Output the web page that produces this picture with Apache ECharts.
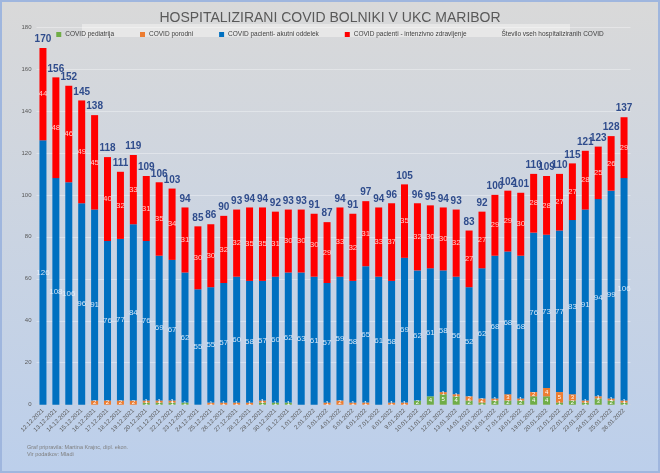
<!DOCTYPE html>
<html><head><meta charset="utf-8">
<script src="https://cdn.jsdelivr.net/npm/echarts@6/dist/echarts.min.js"></script>
<style>
html,body{margin:0;padding:0;}
#c{width:660px;height:473px;box-sizing:border-box;border:2px solid #9fb6de;}
</style></head>
<body><div id="c"></div>
<script>
const dates = ['12.12.2021','13.12.2021','14.12.2021','15.12.2021','16.12.2021','17.12.2021','18.12.2021','19.12.2021','20.12.2021','21.12.2021','22.12.2021','23.12.2021','24.12.2021','25.12.2021','26.12.2021','27.12.2021','28.12.2021','29.12.2021','30.12.2021','31.12.2021','1.01.2022','2.01.2022','3.01.2022','4.01.2022','5.01.2022','6.01.2022','7.01.2022','8.01.2022','9.01.2022','10.01.2022','11.01.2022','12.01.2022','13.01.2022','14.01.2022','15.01.2022','16.01.2022','17.01.2022','18.01.2022','19.01.2022','20.01.2022','21.01.2022','22.01.2022','23.01.2022','24.01.2022','25.01.2022','26.01.2022'];
const pediatrija = [0,0,0,0,0,0,0,0,1,1,1,1,0,0,0,0,0,1,1,1,0,0,0,0,0,0,0,0,0,2,4,5,4,2,1,2,2,2,4,4,1,2,1,3,2,1];
const porodni =    [0,0,0,0,2,2,2,2,1,1,1,0,0,1,1,1,1,1,0,0,0,0,1,2,1,1,0,1,1,0,0,1,1,2,2,1,3,1,2,4,5,3,1,1,1,1];
const akutni =     [126,108,106,96,91,76,77,84,76,69,67,62,55,55,57,60,58,57,60,62,63,61,57,59,58,65,61,58,69,62,61,58,56,52,62,68,68,68,76,73,77,83,91,94,99,106];
const intenzivno = [44,48,46,49,45,40,32,33,31,35,34,31,30,30,32,32,35,35,31,30,30,30,29,33,32,31,33,37,35,32,30,30,32,27,27,29,29,30,28,28,27,27,28,25,26,29];
const skupaj =     [170,156,152,145,138,118,111,119,109,106,103,94,85,86,90,93,94,94,92,93,93,91,87,94,91,97,94,96,105,96,95,94,93,83,92,100,102,101,110,109,110,115,121,123,128,137];
const yTicks = {min:0, max:180, interval:20};
const names = ['COVID pediatrija','COVID porodni','COVID pacienti- akutni oddelek','COVID pacienti - intenzivno zdravljenje','Število vseh hospitaliziranih COVID'];

const chart = echarts.init(document.getElementById('c'), null, {renderer:'canvas'});
const smallLabel = {show:true, position:'inside', fontSize:6, color:'#ffffff', formatter:p=>p.value>0?p.value:''};
chart.setOption({
  animation:false,
  backgroundColor:{type:'linear',x:0,y:0,x2:0,y2:1,colorStops:[{offset:0,color:'#d9d9d9'},{offset:1,color:'#bccfeb'}]},
  textStyle:{fontFamily:'Liberation Sans, Arial, sans-serif'},
  title:{text:'HOSPITALIZIRANI COVID BOLNIKI V UKC MARIBOR',left:'center',top:4,
    textStyle:{fontSize:14,fontWeight:'normal',color:'#595959',fontFamily:'Liberation Sans Narrow, Liberation Sans, sans-serif'}},
  graphic:[
    {type:'rect',shape:{x:80,y:22,width:488,height:13},style:{fill:'#e7e7e7'},z:-1},
    {type:'text',left:25,top:442,style:{text:'Graf pripravila: Martina Krajnc, dipl. ekon.\nVir podatkov: Mladi',fill:'#7f7f7f',fontSize:5.5,lineHeight:7}}
  ],
  legend:{top:24,left:'center',itemWidth:5,itemHeight:5,itemGap:26,
    textStyle:{fontSize:6.5,color:'#404040',padding:[0,0,0,-1]},
    data:[{name:names[0],icon:'rect'},{name:names[1],icon:'rect'},{name:names[2],icon:'rect'},{name:names[3],icon:'rect'},
      {name:names[4],icon:'rect',itemStyle:{color:'rgba(0,0,0,0)'}}]},
  grid:{left:34.5,right:27.5,top:25,bottom:66.3},
  xAxis:{type:'category',data:dates,
    axisLine:{lineStyle:{color:'#c8d2e2'}},axisTick:{show:false},
    axisLabel:{rotate:45,fontSize:6,color:'#595959',margin:5,interval:0}},
  yAxis:{type:'value',min:yTicks.min,max:yTicks.max,interval:yTicks.interval,
    axisLine:{show:false},axisTick:{show:false},
    axisLabel:{fontSize:6,color:'#595959',margin:5},
    splitLine:{lineStyle:{color:'rgba(255,255,255,0.35)'}}},
  series:[
    {name:names[0],type:'bar',stack:'s',data:pediatrija,barWidth:7,itemStyle:{color:'#70AD47'},label:smallLabel},
    {name:names[1],type:'bar',stack:'s',data:porodni,itemStyle:{color:'#ED7D31'},label:smallLabel},
    {name:names[2],type:'bar',stack:'s',data:akutni,itemStyle:{color:'#0070C0'},
      label:{show:true,position:'inside',fontSize:8,color:'rgba(235,242,252,0.9)'}},
    {name:names[3],type:'bar',stack:'s',data:intenzivno,itemStyle:{color:'#FF0000'},
      label:{show:true,position:'inside',fontSize:8,color:'rgba(255,215,215,0.95)'}},
    {name:names[4],type:'line',data:skupaj,symbol:'circle',symbolSize:1,
      itemStyle:{color:'rgba(0,0,0,0)'},lineStyle:{opacity:0},
      label:{show:true,position:'top',distance:3,fontSize:10,fontWeight:'bold',color:'#2F4C8C',
        fontFamily:'Liberation Sans Narrow, Liberation Sans, sans-serif'}}
  ]
});
</script></body></html>
